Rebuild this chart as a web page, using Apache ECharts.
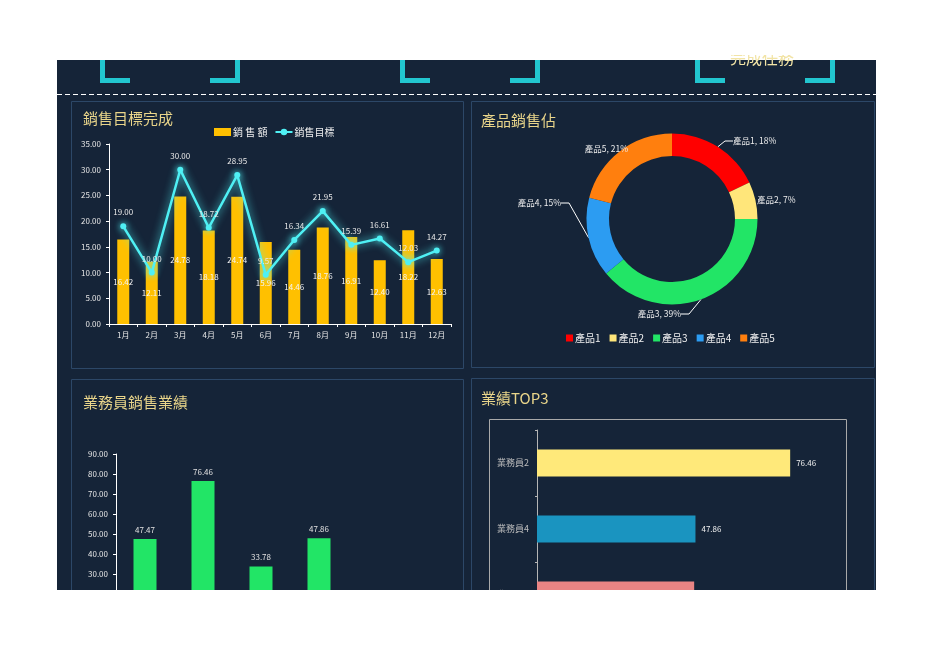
<!DOCTYPE html>
<html>
<head>
<meta charset="utf-8">
<script src="https://cdn.jsdelivr.net/npm/echarts@6/dist/echarts.min.js"></script>
<style>
  html, body { margin: 0; padding: 0; background: #ffffff; width: 936px; height: 662px; overflow: hidden; }
  #clip { position: absolute; left: 0; top: 55px; width: 936px; height: 535px; overflow: hidden; }
  #bg { position: absolute; left: 57px; top: 5px; width: 819px; height: 530px; background: #152438; }
  #chart { position: absolute; left: 0; top: -55px; width: 936px; height: 662px; }
</style>
</head>
<body>
<div id="clip">
  <div id="bg"></div>
  <div id="chart"></div>
</div>
<script>
// ---- data ----
const months = ['1月','2月','3月','4月','5月','6月','7月','8月','9月','10月','11月','12月'];
const salesAmount = [16.42, 12.11, 24.78, 18.18, 24.74, 15.96, 14.46, 18.76, 16.91, 12.40, 18.22, 12.63];
const salesTarget = [19.00, 10.00, 30.00, 18.72, 28.95, 9.57, 16.34, 21.95, 15.39, 16.61, 12.03, 14.27];
const products = ['產品1', '產品2', '產品3', '產品4', '產品5'];
const productShare = [18, 7, 39, 15, 21];
const reps = ['業務員1', '業務員2', '業務員3', '業務員4'];
const repSales = [47.47, 76.46, 33.78, 47.86];
const top3Names = ['業務員2', '業務員4', '業務員1'];
const top3Values = [76.46, 47.86, 47.47];

const FONT = "'Noto Sans CJK TC', 'Noto Sans', sans-serif";
const TITLE_COLOR = '#E9D58A';
const PANEL_BORDER = '#2c4767';
const CYAN = '#22C6CF';
const productColors = ['#FF0000', '#FFE67A', '#22E566', '#2C9CF2', '#FF7F0E'];
const top3Colors = ['#FFE97A', '#1A94C0', '#E98484'];
const fmt2 = v => Number(v).toFixed(2);

// pie label placement (Excel-like), style only
const pieLabelPlace = [
  { x: 733, y: 141, align: 'left', line: true },
  { x: 757, y: 200, align: 'left', line: false },
  { x: 681, y: 314, align: 'right', line: true },
  { x: 561, y: 203, align: 'right', line: true },
  { x: 628, y: 149, align: 'right', line: false }
];

const chart = echarts.init(document.getElementById('chart'), null, { renderer: 'canvas' });

function bracketL(x) {
  return [
    { type: 'rect', shape: { x: x, y: 60, width: 5, height: 23 }, style: { fill: CYAN } },
    { type: 'rect', shape: { x: x, y: 78, width: 30, height: 5 }, style: { fill: CYAN } }
  ];
}
function bracketR(x) {
  return [
    { type: 'rect', shape: { x: x - 5, y: 60, width: 5, height: 23 }, style: { fill: CYAN } },
    { type: 'rect', shape: { x: x - 30, y: 78, width: 30, height: 5 }, style: { fill: CYAN } }
  ];
}
function panel(x, y, w, h) {
  return { type: 'rect', shape: { x: x + 0.5, y: y + 0.5, width: w, height: h },
           style: { fill: 'none', stroke: PANEL_BORDER, lineWidth: 1 } };
}
function title(text, x, y) {
  return { type: 'text', x: x, y: y,
           style: { text: text, fill: TITLE_COLOR, font: '15px ' + FONT, textVerticalAlign: 'middle' } };
}

const graphics = [].concat(
  bracketL(100), bracketR(240), bracketL(400), bracketR(540), bracketL(695), bracketR(835),
  [
    { type: 'text', x: 730, y: 66, style: { text: '完成任務', fill: '#F2E4A6', font: '16px ' + FONT, textVerticalAlign: 'bottom' } },
    { type: 'line', shape: { x1: 57, y1: 94.5, x2: 876, y2: 94.5 }, style: { stroke: '#ffffff', lineWidth: 1, lineDash: [5, 3] } },
    panel(71, 101, 392, 267),
    panel(471, 101, 403, 266),
    panel(71, 379, 392, 240),
    panel(471, 378, 403, 240),
    { type: 'rect', shape: { x: 489.5, y: 419.5, width: 357, height: 220 }, style: { fill: 'none', stroke: '#a9a9a9', lineWidth: 1 } },
    title('銷售目標完成', 83, 118),
    title('產品銷售佔', 481, 120),
    title('業務員銷售業績', 83, 402),
    title('業績TOP3', 481, 398)
  ]
);

const axisText = { color: '#e6e6e6', fontSize: 8, fontFamily: FONT };

const option = {
  backgroundColor: 'transparent',
  animation: false,
  textStyle: { fontFamily: FONT },
  graphic: { elements: graphics },
  legend: [
    {
      data: [{ name: '銷 售 額', icon: 'rect' }, { name: '銷售目標' }],
      left: 214, top: 127, padding: 0,
      itemWidth: 17, itemHeight: 8, itemGap: 7,
      textStyle: { color: '#f0f0f0', fontSize: 10, fontFamily: FONT, padding: [0, 0, 0, -3] }
    },
    {
      data: products,
      left: 566, top: 333, padding: 0,
      icon: 'rect',
      itemWidth: 7, itemHeight: 7, itemGap: 9,
      textStyle: { color: '#f0f0f0', fontSize: 10, fontFamily: FONT, padding: [0, 0, 0, -3] }
    }
  ],
  grid: [
    { left: 109, top: 144, width: 342, height: 180 },
    { left: 116, top: 454, width: 232, height: 180 },
    { left: 537, top: 430, width: 298, height: 198 }
  ],
  xAxis: [
    {
      gridIndex: 0, type: 'category', data: months,
      axisLine: { lineStyle: { color: '#ffffff', width: 1 } },
      axisTick: { show: true, length: 3, lineStyle: { color: '#ffffff' } },
      axisLabel: Object.assign({ margin: 7 }, axisText, { fontSize: 8 })
    },
    {
      gridIndex: 1, type: 'category', data: reps,
      axisLine: { lineStyle: { color: '#ffffff' } },
      axisTick: { show: true, length: 3 },
      axisLabel: axisText
    },
    {
      gridIndex: 2, type: 'value', min: 0, max: 90, show: false
    }
  ],
  yAxis: [
    {
      gridIndex: 0, type: 'value', min: 0, max: 35, interval: 5,
      axisLine: { show: true, lineStyle: { color: '#ffffff', width: 1 } },
      axisTick: { show: true, length: 3, lineStyle: { color: '#ffffff' } },
      splitLine: { show: false },
      axisLabel: Object.assign({ formatter: fmt2, margin: 8 }, axisText)
    },
    {
      gridIndex: 1, type: 'value', min: 0, max: 90, interval: 10,
      axisLine: { show: true, lineStyle: { color: '#ffffff', width: 1 } },
      axisTick: { show: true, length: 3, lineStyle: { color: '#ffffff' } },
      splitLine: { show: false },
      axisLabel: Object.assign({ formatter: fmt2, margin: 8 }, axisText)
    },
    {
      gridIndex: 2, type: 'category', data: top3Names, inverse: true,
      axisLine: { show: true, lineStyle: { color: '#b5b5b5', width: 1 } },
      axisTick: { show: true, length: 2, lineStyle: { color: '#b5b5b5' } },
      axisLabel: { color: '#bdbdbd', fontSize: 9, fontFamily: FONT, margin: 8 }
    }
  ],
  series: [
    {
      name: '銷 售 額', type: 'bar', xAxisIndex: 0, yAxisIndex: 0,
      data: salesAmount, barWidth: 12,
      itemStyle: { color: '#FFC000' },
      label: { show: true, position: 'inside', formatter: p => fmt2(p.value), color: '#f4f4f4', fontSize: 8, fontFamily: FONT },
      z: 2
    },
    {
      name: '銷售目標', type: 'line', xAxisIndex: 0, yAxisIndex: 0,
      data: salesTarget,
      symbol: 'circle', symbolSize: 6,
      lineStyle: { color: '#4FF0F4', width: 2.5, shadowBlur: 8, shadowColor: '#4FF0F4' },
      itemStyle: { color: '#4FF0F4', shadowBlur: 6, shadowColor: '#4FF0F4' },
      label: { show: true, position: 'top', distance: 7, formatter: p => fmt2(p.value), color: '#e8e8e8', fontSize: 8, fontFamily: FONT },
      z: 3
    },
    {
      name: '產品銷售佔', type: 'pie',
      center: [672, 219], radius: [63, 85.5],
      startAngle: 90, clockwise: true,
      percentPrecision: 0,
      data: products.map((n, i) => ({
        name: n, value: productShare[i],
        itemStyle: { color: productColors[i] },
        labelLine: { show: pieLabelPlace[i].line }
      })),
      label: { show: true, formatter: '{b}, {d}%', color: '#eeeeee', fontSize: 8.5, fontFamily: FONT },
      labelLine: { show: true, length: 10, length2: 8, lineStyle: { color: '#ffffff', width: 1 } },
      labelLayout: function (params) {
        const p = pieLabelPlace[params.dataIndex];
        return { x: p.x, y: p.y, align: p.align, verticalAlign: 'middle' };
      },
      emphasis: { disabled: true }
    },
    {
      name: '業務員銷售業績', type: 'bar', xAxisIndex: 1, yAxisIndex: 1,
      data: repSales, barWidth: 23,
      itemStyle: { color: '#22E566' },
      label: { show: true, position: 'top', formatter: p => fmt2(p.value), color: '#e0e0e0', fontSize: 8, fontFamily: FONT }
    },
    {
      name: '業績TOP3', type: 'bar', xAxisIndex: 2, yAxisIndex: 2,
      data: top3Values.map((v, i) => ({ value: v, itemStyle: { color: top3Colors[i] } })),
      barWidth: 27,
      label: { show: true, position: 'right', distance: 6, formatter: p => fmt2(p.value), color: '#f0f0f0', fontSize: 8, fontFamily: FONT }
    }
  ]
};

chart.setOption(option);
</script>
</body>
</html>
